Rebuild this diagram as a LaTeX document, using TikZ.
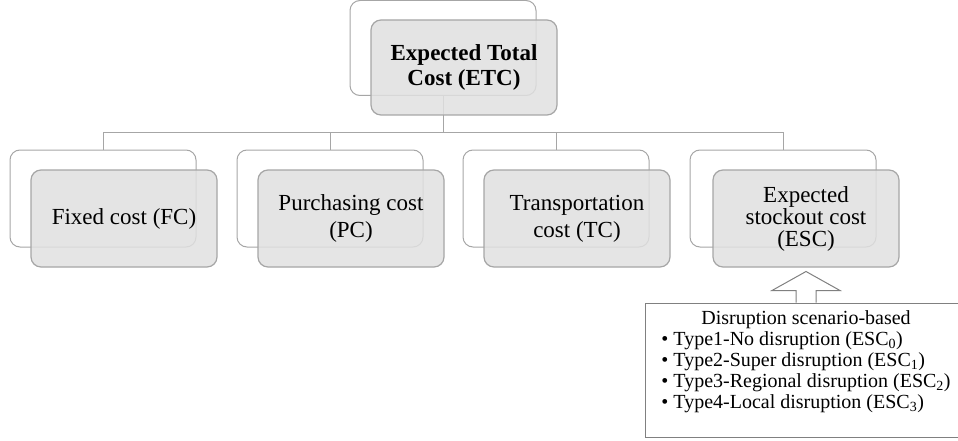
\documentclass[tikz,border=0pt]{standalone}
\usepackage{fontspec}
\setmainfont{Liberation Serif}
\usepackage{tikz}
\usetikzlibrary{calc}
\usepackage{xcolor}
\definecolor{BoxLine}{HTML}{A6A6A6}
\definecolor{BoxFill}{HTML}{E0E0E0}
\definecolor{NoteLine}{HTML}{808080}

\begin{document}
\begin{tikzpicture}[x=1pt,y=-1pt,
    backbox/.style={draw=BoxLine,line width=1pt,rounded corners=10pt,fill=white,
      minimum width=186pt,minimum height=97pt,inner sep=0pt},
    frontbox/.style={draw=BoxLine,line width=1.2pt,rounded corners=10pt,fill=BoxFill,
      fill opacity=0.85,text opacity=1,minimum width=186pt,minimum height=97pt,
      inner sep=0pt,align=center},
    link/.style={draw=BoxLine,line width=1pt}]
    \useasboundingbox (0,0) rectangle (958,441);
    \clip (0,0) rectangle (958,441);
    % back layer
    \node[backbox,minimum height=95pt] (etc-b) at (443,48) {};
    \coordinate (bus) at (443,133);
    \foreach \x/\name in {103/fc,330/pc,556/tc,783/esc} {
     \node[backbox] (\name-b) at (\x,198.5) {};
     \draw[link] (bus) -| (\name-b.north);
    }
    \draw[link] (etc-b.south) -- (bus);
    % front layer
    \node[frontbox,minimum height=95pt,font=\bfseries\fontsize{23}{25}\selectfont] (etc) at (464,67.5) {Expected Total\\Cost (ETC)};
    \foreach \x/\name/\lead/\label in {124/fc/27/{Fixed cost (FC)},351/pc/27/{Purchasing cost\\(PC)},
      577/tc/27/{Transportation\\cost (TC)},806/esc/22/{Expected\\stockout cost\\(ESC)}} {
     \node[frontbox,font=\fontsize{23}{\lead}\selectfont] (\name) at (\x,218.5) {\label};
    }
    % scenario note
    \node[draw=NoteLine,line width=1pt,fill=white,minimum width=322pt,minimum height=134pt] (note) at (806,370) {};
    \node[font=\fontsize{20}{21}\selectfont,inner sep=0pt] (notetext) at ([yshift=7.5pt]note.center) {%
      \begin{tabular}{@{}l@{\hspace{5pt}}l@{}}
       \multicolumn{2}{c}{Disruption scenario-based}\\
       \textbullet & Type1-No disruption (ESC\textsubscript{0})\\
       \textbullet & Type2-Super disruption (ESC\textsubscript{1})\\
       \textbullet & Type3-Regional disruption (ESC\textsubscript{2})\\
       \textbullet & Type4-Local disruption (ESC\textsubscript{3})
      \end{tabular}};
    \draw[draw=NoteLine,line width=1pt,fill=white] ([xshift=-10pt]note.north) -- ++(0,-12) -- ++(-24,0)
      -- ++(34,-19) -- ++(34,19) -- ++(-24,0) -- ++(0,12);
   \end{tikzpicture}
\end{document}
